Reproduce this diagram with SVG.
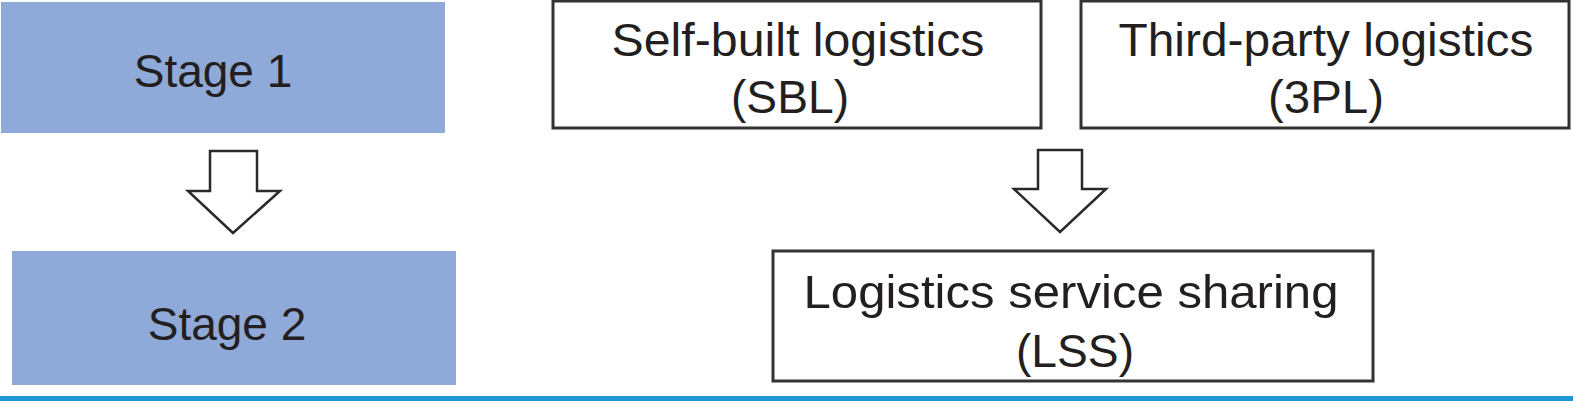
<svg xmlns="http://www.w3.org/2000/svg" width="1573" height="401" viewBox="0 0 1573 401">
<style>
.stage{fill:#8FA9D8;stroke:none}
.box{fill:#ffffff;stroke:#333333;stroke-width:3}
.arrow{fill:#ffffff;stroke:#2a2a2a;stroke-width:2.5;stroke-linejoin:miter}
.t{font-family:"Liberation Sans",Arial,sans-serif;fill:#231f20;text-anchor:middle}
.ts{font-size:46px}
.tb{font-size:47px}
</style>
<rect x="0" y="0" width="1573" height="401" fill="#ffffff"/>
<g id="stage1">
<rect class="stage" x="1" y="2" width="444" height="131"/>
<text class="t ts" x="213" y="87">Stage 1</text>
</g>
<g id="stage2">
<rect class="stage" x="12" y="251" width="444" height="134"/>
<text class="t ts" x="227" y="340">Stage 2</text>
</g>
<g id="sbl">
<rect class="box" x="553" y="1" width="488" height="127"/>
<text class="t tb" x="798" y="56" textLength="373" lengthAdjust="spacingAndGlyphs">Self-built logistics</text>
<text class="t tb" x="790" y="113" textLength="118" lengthAdjust="spacingAndGlyphs">(SBL)</text>
</g>
<g id="tpl">
<rect class="box" x="1081" y="1" width="488" height="127"/>
<text class="t tb" x="1326" y="56" textLength="415" lengthAdjust="spacingAndGlyphs">Third-party logistics</text>
<text class="t tb" x="1326" y="113" textLength="116" lengthAdjust="spacingAndGlyphs">(3PL)</text>
</g>
<g id="lss">
<rect class="box" x="773" y="251" width="600" height="130"/>
<text class="t tb" x="1071" y="308" textLength="535" lengthAdjust="spacingAndGlyphs">Logistics service sharing</text>
<text class="t tb" x="1075" y="367" textLength="118" lengthAdjust="spacingAndGlyphs">(LSS)</text>
</g>
<g id="connectors">
<polygon class="arrow" points="210,151 257,151 257,191 280,191 233,233 188,191 210,191"/>
<polygon class="arrow" points="1038,150 1082,150 1082,189 1106,189 1060,232 1014,189 1038,189"/>
</g>
<rect x="0" y="396" width="1573" height="5" fill="#1F96D5"/>
</svg>
